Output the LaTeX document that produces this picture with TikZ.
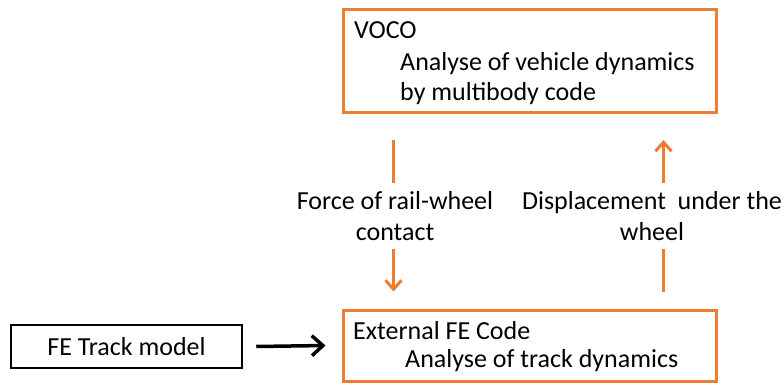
\documentclass[tikz,border=0pt]{standalone}
\usepackage{fontspec}
\setmainfont{Carlito}
\usetikzlibrary{arrows.meta}
\definecolor{org}{HTML}{ED7D31}
\begin{document}
\begin{tikzpicture}[x=1pt,y=-1pt,
  every node/.style={font=\fontsize{26}{31}\selectfont},
  obox/.style={draw=org, line width=3pt, inner sep=0pt},
  kbox/.style={draw=black, line width=2.5pt, inner sep=0pt},
  txt/.style={anchor=base west, inner sep=0pt},
  oarrow/.style={draw=org, line width=3pt, -{Straight Barb[length=9pt,width=16pt]}},
  karrow/.style={draw=black, line width=3.5pt, -{Straight Barb[length=11pt,width=20pt]}},
  lbl/.style={fill=white, align=center, inner xsep=2pt, inner ysep=8pt}]
\useasboundingbox (0,0) rectangle (782,383);
\node[obox, minimum width=373pt, minimum height=103pt] (voco) at (529.5,61) {};
\node[txt] (vocoA) at (354,38) {VOCO};
\node[txt] (vocoB) at (400,70) {Analyse of vehicle dynamics};
\node[txt] (vocoC) at (400,100) {by multibody code};
\node[obox, minimum width=373pt, minimum height=71pt] (ext) at (529.5,345.5) {};
\node[txt] (extA) at (353,339) {External FE Code};
\node[txt] (extB) at (405,367) {Analyse of track dynamics};
\node[kbox, minimum width=231pt, minimum height=43pt] (fe) at (126.5,346.5) {FE Track model};
\draw[karrow] ([xshift=13pt]fe.east) -- ([xshift=-16pt]ext.west);
\draw[oarrow] ([xshift=52pt,yshift=-26pt]voco.south west) -- ([xshift=52pt,yshift=17pt]ext.north west);
\draw[oarrow] ([xshift=-54pt,yshift=17pt]ext.north east) -- ([xshift=-54pt,yshift=-26pt]voco.south east);
\node[lbl] (lblF) at (395,216) {Force of rail-wheel\\contact};
\node[lbl] (lblD) at (652,216) {Displacement\ \ under the\\wheel};
\end{tikzpicture}
\end{document}
